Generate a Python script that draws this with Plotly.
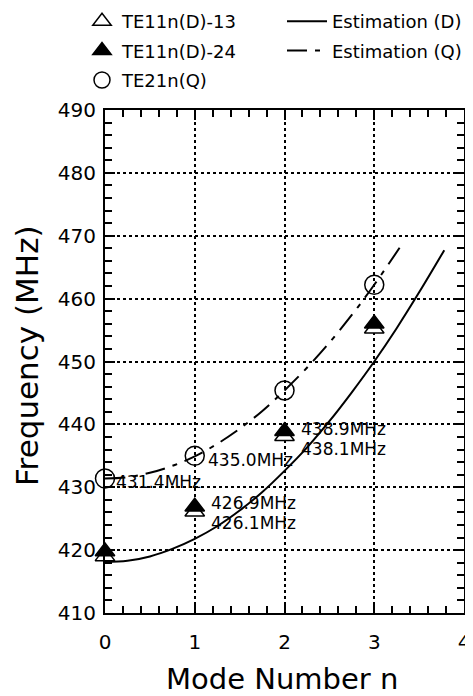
import plotly.graph_objects as go

# ---- data ----
modes = [0, 1, 2, 3]
te11_13 = [419.0, 426.1, 438.1, 455.2]   # open triangles
te11_24 = [419.8, 426.9, 438.9, 456.0]   # filled triangles
te21_q = [431.4, 435.0, 445.4, 462.2]    # open circles

est_d_n = [0, 0.25, 0.5, 0.75, 1, 1.25, 1.5, 1.75, 2, 2.25, 2.5, 2.75, 3, 3.25, 3.5, 3.78]
est_d_f = [418.1, 418.3, 419.0, 420.2, 421.8, 423.8, 426.3, 429.2, 432.6, 436.3, 440.5,
           445.1, 450.0, 455.3, 461.0, 467.7]
est_q_n = [0, 0.25, 0.5, 0.75, 1, 1.25, 1.5, 1.75, 2, 2.25, 2.5, 2.75, 3, 3.33]
est_q_f = [431.4, 431.6, 432.3, 433.4, 434.9, 436.9, 439.3, 442.1, 445.4, 449.0, 453.0,
           457.4, 462.2, 469.1]

x_ticks = [0, 1, 2, 3, 4]
y_ticks = [410, 420, 430, 440, 450, 460, 470, 480, 490]

FONT = "DejaVu Sans"
# The page body has an 8px margin, so the figure is sized to fill the rest of the window.
W, H = 465, 688
ML, MR, MT, MB = 97, 9, 102, 83
PW, PH = W - ML - MR, H - MT - MB

fig = go.Figure()

fig.add_trace(go.Scatter(
    x=est_d_n, y=est_d_f, mode="lines", name="Estimation (D)",
    line=dict(color="black", width=2, shape="spline"),
    legend="legend2", legendgroup="d", cliponaxis=True))
fig.add_trace(go.Scatter(
    x=est_q_n, y=est_q_f, mode="lines", name="Estimation (Q)",
    line=dict(color="black", width=2, shape="spline", dash="20px,8px,5px,8px"),
    legend="legend2", legendgroup="q", cliponaxis=True))

fig.add_trace(go.Scatter(
    x=modes, y=te11_13, mode="markers", name="TE11n(D)-13",
    marker=dict(symbol="triangle-up", size=17, color="white",
                line=dict(color="black", width=1.5)),
    legend="legend", legendgroup="a", cliponaxis=False))
fig.add_trace(go.Scatter(
    x=modes, y=te11_24, mode="markers", name="TE11n(D)-24",
    marker=dict(symbol="triangle-up", size=17, color="black",
                line=dict(color="black", width=1.5)),
    legend="legend", legendgroup="b", cliponaxis=False))
fig.add_trace(go.Scatter(
    x=modes, y=te21_q, mode="markers", name="TE21n(Q)",
    marker=dict(symbol="circle-open", size=19, color="black",
                line=dict(color="black", width=1.5)),
    legend="legend", legendgroup="c", cliponaxis=False))

# value annotations
ann_font = dict(family=FONT, size=17, color="black")
labels = [
    (modes[0], te21_q[0], te21_q[0], 9, -4),
    (modes[1], te21_q[1], te21_q[1], 11, -4),
    (modes[1], te11_24[1], te11_24[1], 14, 4),
    (modes[1], te11_13[1], te11_13[1], 14, -11),
    (modes[2], te11_24[2], te11_24[2], 14, 2),
    (modes[2], te11_13[2], te11_13[2], 14, -13),
]
for xv, yv, val, dx, dy in labels:
    fig.add_annotation(x=xv, y=yv, text=f"{val:.1f}MHz", showarrow=False,
                       xanchor="left", yanchor="middle", xshift=dx, yshift=dy,
                       font=ann_font)

# axis titles
fig.add_annotation(text="Mode Number n", xref="paper", yref="paper",
                   x=(274 - ML) / PW, y=(H - MB - 671) / PH,
                   xanchor="center", yanchor="middle", showarrow=False,
                   font=dict(family=FONT, size=29, color="black"))
fig.add_annotation(text="Frequency (MHz)", xref="paper", yref="paper",
                   x=(19 - ML) / PW, y=(H - MB - 348) / PH, textangle=-90,
                   xanchor="center", yanchor="middle", showarrow=False,
                   font=dict(family=FONT, size=31, color="black"))

axis_common = dict(
    showline=True, linecolor="black", linewidth=2, mirror="ticks",
    ticks="inside", ticklen=10, tickwidth=2, tickcolor="black",
    showgrid=True, gridcolor="black", gridwidth=1.5, griddash="dot",
    zeroline=False, tickfont=dict(family=FONT, size=20, color="black"),
)

fig.update_xaxes(
    range=[0, 4], tickvals=x_ticks, ticktext=[str(v) for v in x_ticks],
    minor=dict(dtick=0.2, ticks="inside", ticklen=7, tickwidth=2, tickcolor="black", showgrid=False),
    ticklabelstandoff=10,
    **axis_common)
fig.update_yaxes(
    range=[410, 490], tickvals=y_ticks, ticktext=[str(v) for v in y_ticks],
    minor=dict(dtick=2, ticks="inside", ticklen=7, tickwidth=2, tickcolor="black", showgrid=False),
    ticklabelstandoff=3,
    **axis_common)

legend_top = (H - MB + 5) / PH   # legend top 5px above the top edge of the figure

fig.update_layout(
    width=W, height=H,
    margin=dict(l=ML, r=MR, t=MT, b=MB, autoexpand=False),
    paper_bgcolor="white", plot_bgcolor="white",
    font=dict(family=FONT, color="black"),
    showlegend=True,
    legend=dict(x=74 / W, y=legend_top, xref="container", yref="paper",
                xanchor="left", yanchor="top", bgcolor="rgba(0,0,0,0)",
                font=dict(family=FONT, size=18, color="black"),
                tracegroupgap=3, itemsizing="trace"),
    legend2=dict(x=274 / W, y=legend_top, xref="container", yref="paper",
                 xanchor="left", yanchor="top", bgcolor="rgba(0,0,0,0)",
                 font=dict(family=FONT, size=18, color="black"),
                 tracegroupgap=3, itemwidth=40),
)

fig.write_html("out.html")
